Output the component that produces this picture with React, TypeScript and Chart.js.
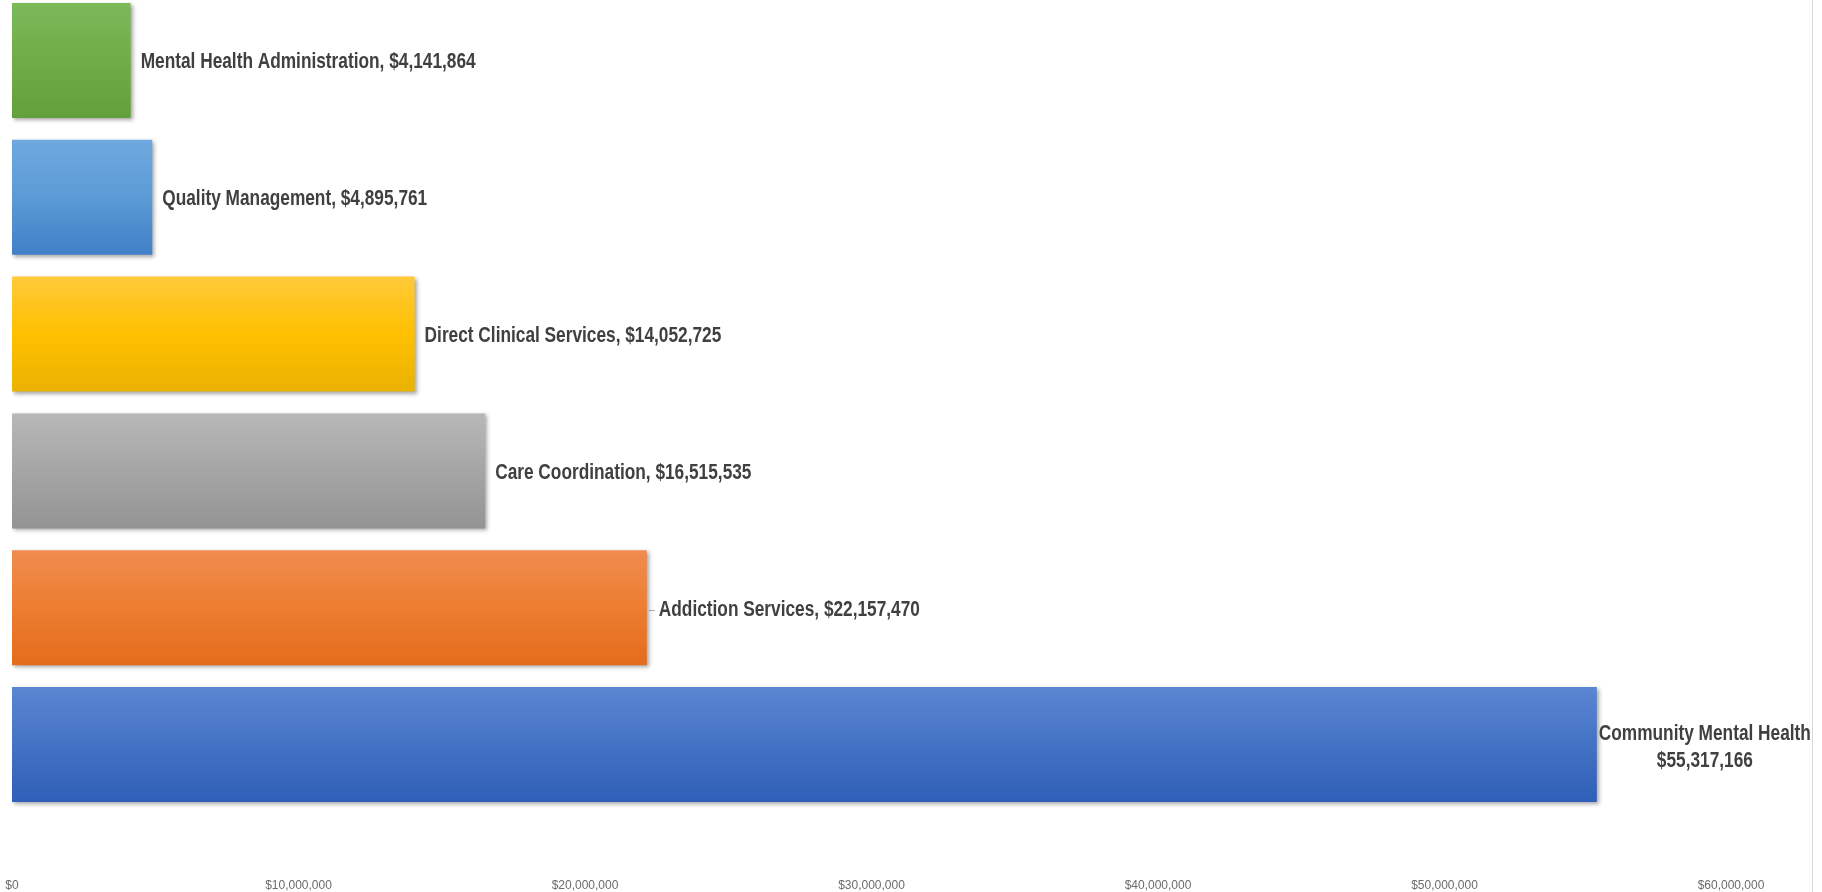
import React, { useEffect, useRef } from "react";
import { Chart, registerables } from "chart.js";

Chart.register(...registerables);

const categories = [
  "Mental Health Administration",
  "Quality Management",
  "Direct Clinical Services",
  "Care Coordination",
  "Addiction Services",
  "Community Mental Health",
];
const values = [4141864, 4895761, 14052725, 16515535, 22157470, 55317166];
const gradientTop = ["#7cb95a", "#6fa8e0", "#ffca3a", "#b8b8b8", "#f08c4f", "#5a86d2"];
const gradientMid = ["#70ad47", "#5b9bd5", "#ffc000", "#a5a5a5", "#ed7d31", "#4472c4"];
const gradientBottom = ["#62a03a", "#3f80c8", "#e9b200", "#949494", "#e46c1c", "#2f5fb8"];
const xTickValues = [0, 10000000, 20000000, 30000000, 40000000, 50000000, 60000000];

const BAR_FRACTION = 0.84;
const LABEL_FONT = 'bold 22px "Liberation Sans", Arial, sans-serif';
const NARROW = 0.785;

const fmt = (v: number) => "$" + v.toLocaleString("en-US");

const shadowPlugin = {
  id: "barShadow",
  beforeDatasetsDraw(chart: any) {
    const ctx = chart.ctx;
    ctx.save();
    ctx.shadowColor = "rgba(0,0,0,0.35)";
    ctx.shadowBlur = 4;
    ctx.shadowOffsetX = 2;
    ctx.shadowOffsetY = 2;
  },
  afterDatasetsDraw(chart: any) {
    chart.ctx.restore();
  },
};

function narrowText(ctx: any, text: string, x: number, y: number, align: string) {
  ctx.save();
  ctx.translate(x, y);
  ctx.scale(NARROW, 1);
  ctx.textAlign = align;
  ctx.fillText(text, 0, 0);
  ctx.restore();
}

const labelPlugin = {
  id: "barLabels",
  afterDraw(chart: any) {
    const ctx = chart.ctx;
    const meta = chart.getDatasetMeta(0);
    ctx.save();
    ctx.font = LABEL_FONT;
    ctx.fillStyle = "#404040";
    ctx.textBaseline = "middle";
    meta.data.forEach((bar: any, i: number) => {
      const x = bar.x;
      const y = bar.y + 2;
      const name = categories[i];
      const val = fmt(values[i]);
      if (i === categories.length - 1) {
        const w = ctx.measureText(name).width * NARROW;
        const cx = x + 2 + w / 2;
        narrowText(ctx, name, cx, y - 13, "center");
        narrowText(ctx, val, cx, y + 14, "center");
      } else if (i === 4) {
        ctx.strokeStyle = "#a6a6a6";
        ctx.lineWidth = 1;
        ctx.beginPath();
        ctx.moveTo(x + 2, Math.round(y) + 0.5);
        ctx.lineTo(x + 8, Math.round(y) + 0.5);
        ctx.stroke();
        narrowText(ctx, name + ", " + val, x + 12, y, "left");
      } else {
        narrowText(ctx, name + ", " + val, x + 10, y, "left");
      }
    });
    ctx.restore();
  },
};

export default function App() {
  const canvasRef = useRef<HTMLCanvasElement | null>(null);

  useEffect(() => {
    if (!canvasRef.current) return;
    const chart = new Chart(canvasRef.current, {
      type: "bar",
      data: {
        labels: categories,
        datasets: [
          {
            data: values,
            backgroundColor: (c: any) => {
              const ch = c.chart;
              const ys = ch.scales?.y;
              const i = c.dataIndex ?? 0;
              if (!ys || !ch.chartArea || c.type !== "data") return gradientMid[i];
              const center = ys.getPixelForValue(i);
              const half = (ys.height / categories.length) * BAR_FRACTION / 2;
              const g = ch.ctx.createLinearGradient(0, center - half, 0, center + half);
              g.addColorStop(0, gradientTop[i]);
              g.addColorStop(0.5, gradientMid[i]);
              g.addColorStop(1, gradientBottom[i]);
              return g;
            },
            borderWidth: 0,
            categoryPercentage: 1,
            barPercentage: BAR_FRACTION,
          },
        ],
      },
      options: {
        indexAxis: "y",
        responsive: true,
        maintainAspectRatio: false,
        animation: false,
        layout: { padding: { left: 12, right: 91, top: 12, bottom: 15 } },
        plugins: {
          legend: { display: false },
          tooltip: { enabled: false },
        },
        scales: {
          y: {
            display: false,
            offset: true,
          },
          x: {
            min: 0,
            max: 60000000,
            afterBuildTicks: (axis: any) => {
              axis.ticks = xTickValues.map((v) => ({ value: v }));
            },
            afterFit: (axis: any) => {
              axis.paddingLeft = 0;
              axis.paddingRight = 0;
              axis.height = 82;
            },
            grid: { display: false, drawTicks: false },
            border: { display: false },
            ticks: {
              padding: 65,
              color: "#6b6b6b",
              font: { family: '"Liberation Sans", Arial, sans-serif', size: 12 },
              maxRotation: 0,
              autoSkip: false,
              callback: (v: any) => fmt(Number(v)),
            },
          },
        },
      },
      plugins: [shadowPlugin, labelPlugin],
    });
    return () => chart.destroy();
  }, []);

  return (
    <div
      style={{
        position: "fixed",
        left: 0,
        top: 0,
        width: 1822,
        height: 892,
        overflow: "hidden",
        background: "#ffffff",
      }}
    >
      <div
        style={{
          position: "absolute",
          left: 0,
          top: 0,
          width: 1813,
          height: 892,
          borderRight: "1px solid #d9d9d9",
          boxSizing: "border-box",
        }}
      />
      <div style={{ position: "absolute", left: 0, top: -20, width: 1822, height: 930 }}>
        <canvas ref={canvasRef} />
      </div>
    </div>
  );
}
